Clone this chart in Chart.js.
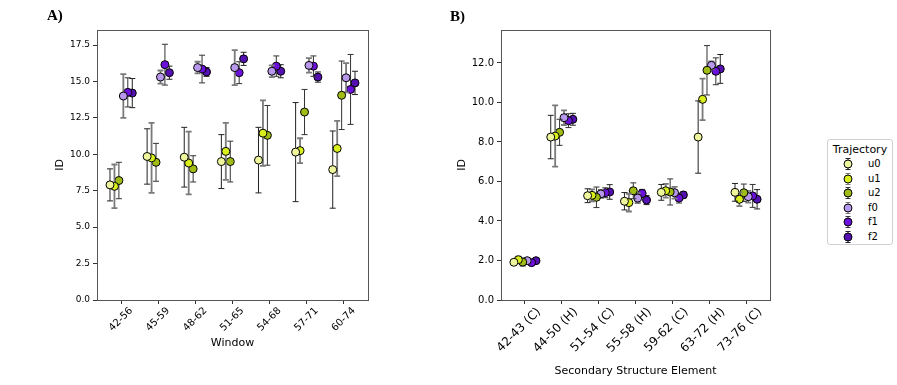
<!DOCTYPE html>
<html>
<head>
<meta charset="utf-8">
<script src="https://cdn.jsdelivr.net/npm/chart.js@4.4.1/dist/chart.umd.min.js"></script>
<style>
  body { margin: 0; background: #fff; }
  #wrap { position: relative; width: 897px; height: 385px; overflow: hidden; font-family: 'DejaVu Sans', sans-serif; }
  canvas { position: absolute; top: 0; }
  .panel-tag { position: absolute; font-family: 'Liberation Serif', serif; font-weight: bold; font-size: 15px; }
  #legend { position: absolute; left: 827px; top: 139px; width: 64px; height: 104px; border: 1px solid #d0d0d0; border-radius: 3px; background: #fff; }
  #legend .ttl { position: absolute; left: 0; width: 64px; top: 3px; text-align: center; font-size: 11px; }
  #legend .row { position: absolute; left: 14px; height: 14px; font-size: 10px; line-height: 14px; }
  #legend .row svg { position: absolute; left: 0; top: 0; }
  #legend .row span { position: absolute; left: 26px; top: 0; }
</style>
</head>
<body>
<div id="wrap">
  <canvas id="chartA" width="400" height="385" style="left:0"></canvas>
  <canvas id="chartB" width="380" height="385" style="left:430px"></canvas>
  <div class="panel-tag" style="left:47px; top:7px">A)</div>
  <div class="panel-tag" style="left:450px; top:8px">B)</div>
  <div id="legend"><div class="ttl">Trajectory</div></div>
</div>
<script>
Chart.defaults.font.family = "'DejaVu Sans', sans-serif";
Chart.defaults.color = '#000';

const seriesNames = ['u0', 'u1', 'u2', 'f0', 'f1', 'f2'];
const seriesColors = ['#eef59c', '#d9f01c', '#9fbd14', '#b898ec', '#6c10dc', '#5410b0'];
const errColors = ['#222', '#7a7a7a', '#333', '#7a7a7a', '#333', '#222'];
const errWidths = [1, 1.8, 1, 1.8, 1, 1];
const xShift = [-0.3, -0.18, -0.06, 0.06, 0.18, 0.3];

// panel A
const windows = ['42-56', '45-59', '48-62', '51-65', '54-68', '57-71', '60-74'];
const yTicksA = [0, 2.5, 5, 7.5, 10, 12.5, 15, 17.5];
const aU0 = [7.9, 9.85, 9.8, 9.5, 9.6, 10.15, 8.95];
const aU1 = [7.8, 9.75, 9.4, 10.2, 11.45, 10.25, 10.4];
const aU2 = [8.2, 9.45, 9.0, 9.5, 11.3, 12.9, 14.05];
const aF0 = [14.0, 15.3, 15.95, 15.95, 15.7, 16.1, 15.25];
const aF1 = [14.25, 16.15, 15.85, 15.6, 16.05, 16.05, 14.45];
const aF2 = [14.2, 15.6, 15.65, 16.55, 15.7, 15.3, 14.9];
const aU0Err = [1.1, 1.9, 2.05, 1.85, 2.25, 3.4, 2.65];
const aU1Err = [1.5, 2.4, 2.15, 1.95, 2.25, 0.85, 1.9];
const aU2Err = [1.25, 1.3, 0.9, 1.4, 2.05, 1.55, 2.35];
const aF0Err = [1.5, 0.45, 0.4, 1.2, 0.4, 0.5, 1.0];
const aF1Err = [1.0, 1.4, 0.95, 0.75, 0.7, 0.7, 2.4];
const aF2Err = [1.0, 0.45, 0.3, 0.45, 0.45, 0.35, 0.8];

// panel B
const elements = ['42-43 (C)', '44-50 (H)', '51-54 (C)', '55-58 (H)', '59-62 (C)', '63-72 (H)', '73-76 (C)'];
const yTicksB = [0, 2, 4, 6, 8, 10, 12];
const bU0 = [1.91, 8.25, 5.28, 5.0, 5.45, 8.25, 5.45];
const bU1 = [2.04, 8.3, 5.3, 4.93, 5.53, 10.16, 5.1];
const bU2 = [1.92, 8.49, 5.2, 5.53, 5.47, 11.63, 5.43];
const bF0 = [1.99, 9.23, 5.37, 5.16, 5.43, 11.88, 5.23];
const bF1 = [1.89, 9.08, 5.43, 5.4, 5.16, 11.58, 5.27];
const bF2 = [1.99, 9.15, 5.47, 5.06, 5.32, 11.7, 5.1];
const bU0Err = [0.1, 1.1, 0.35, 0.44, 0.4, 1.83, 0.45];
const bU1Err = [0.15, 1.55, 0.3, 0.45, 0.35, 1.05, 0.35];
const bU2Err = [0.2, 0.66, 0.52, 0.4, 0.66, 1.25, 0.44];
const bF0Err = [0.12, 0.37, 0.2, 0.25, 0.3, 0.2, 0.3];
const bF1Err = [0.1, 0.35, 0.25, 0.2, 0.25, 0.68, 0.58];
const bF2Err = [0.1, 0.3, 0.37, 0.23, 0.15, 0.73, 0.49];

// draw each series' error bars just before its markers
const errorBars = {
    id: 'errorBars',
    beforeDatasetDraw(chart, args) {
        const ds = chart.data.datasets[args.index];
        const y = chart.scales.y;
        const ctx = chart.ctx;
        ctx.save();
        ctx.strokeStyle = ds.errColor;
        ctx.lineWidth = ds.errWidth;
        args.meta.data.forEach((pt, i) => {
            const v = ds.data[i].y, e = ds.errors[i];
            const top = y.getPixelForValue(v + e), bot = y.getPixelForValue(v - e);
            ctx.beginPath();
            ctx.moveTo(pt.x, top); ctx.lineTo(pt.x, bot);
            ctx.moveTo(pt.x - 3, top); ctx.lineTo(pt.x + 3, top);
            ctx.moveTo(pt.x - 3, bot); ctx.lineTo(pt.x + 3, bot);
            ctx.stroke();
        });
        ctx.restore();
    }
};

const frame = {
    id: 'frame',
    afterDatasetsDraw(chart) {
        const a = chart.chartArea, ctx = chart.ctx;
        ctx.save();
        ctx.strokeStyle = '#555';
        ctx.lineWidth = 1;
        ctx.strokeRect(Math.round(a.left) + 0.5, Math.round(a.top) + 0.5, Math.round(a.right - a.left), Math.round(a.bottom - a.top));
        ctx.restore();
    }
};

function makeChart(id, cats, seriesValues, seriesErrs, o) {
    const datasets = seriesValues.map((vals, s) => ({
        label: seriesNames[s],
        data: vals.map((v, i) => ({ x: i + xShift[s], y: v })),
        errors: seriesErrs[s],
        errColor: errColors[s],
        errWidth: errWidths[s],
        backgroundColor: seriesColors[s],
        borderColor: '#000',
        pointRadius: 4,
        pointBorderWidth: 1,
        showLine: false
    }));
    return new Chart(document.getElementById(id), {
        type: 'scatter',
        data: { datasets },
        plugins: [errorBars, frame],
        options: {
            responsive: false,
            animation: false,
            layout: { padding: o.padding },
            plugins: { legend: { display: false }, tooltip: { enabled: false } },
            scales: {
                x: {
                    type: 'linear',
                    min: -0.65, max: 6.65,
                    afterBuildTicks: scale => { scale.ticks = cats.map((c, i) => ({ value: i })); },
                    afterFit: scale => { scale.height = o.xHeight; },
                    ticks: {
                        autoSkip: false,
                        minRotation: 45, maxRotation: 45,
                        labelOffset: o.labelOffset,
                        padding: 1,
                        font: { size: o.xFont },
                        callback: v => cats[v]
                    },
                    grid: { drawOnChartArea: false, drawTicks: true, tickLength: 4, color: '#333' },
                    border: { display: false },
                    title: { display: true, text: o.xTitle, font: { size: o.xTitleFont }, padding: { top: 4, bottom: 4 } }
                },
                y: {
                    min: 0, max: o.yMax,
                    afterBuildTicks: scale => { scale.ticks = o.yTicks.map(v => ({ value: v })); },
                    afterFit: scale => { scale.width = o.yWidth; },
                    ticks: { font: { size: o.yFont }, padding: 3, callback: v => v.toFixed(1) },
                    grid: { drawOnChartArea: false, drawTicks: true, tickLength: 4, color: '#333' },
                    border: { display: false },
                    title: { display: true, text: 'ID', font: { size: 11 }, padding: { top: 4, bottom: 4 } }
                }
            }
        }
    });
}

makeChart('chartA', windows,
    [aU0, aU1, aU2, aF0, aF1, aF2],
    [aU0Err, aU1Err, aU2Err, aF0Err, aF1Err, aF2Err],
    { padding: { left: 50, right: 32, top: 30, bottom: 31 }, yWidth: 47, xHeight: 54,
      yMax: 18.53, yTicks: yTicksA, xFont: 10, yFont: 9, labelOffset: 10,
      xTitle: 'Window', xTitleFont: 11 });

makeChart('chartB', elements,
    [bU0, bU1, bU2, bF0, bF1, bF2],
    [bU0Err, bU1Err, bU2Err, bF0Err, bF1Err, bF2Err],
    { padding: { left: 22, right: 40, top: 30, bottom: 3 }, yWidth: 49, xHeight: 82,
      yMax: 13.67, yTicks: yTicksB, xFont: 12, yFont: 10, labelOffset: 14,
      xTitle: 'Secondary Structure Element', xTitleFont: 11 });

// legend
const legend = document.getElementById('legend');
seriesNames.forEach((name, s) => {
    const row = document.createElement('div');
    row.className = 'row';
    row.style.top = (17 + s * 14.6) + 'px';
    row.innerHTML =
        '<svg width="12" height="14" viewBox="0 0 12 14">' +
        '<path d="M6 1 V13 M3.5 1.5 H8.5 M3.5 12.5 H8.5" stroke="' + errColors[s] + '" stroke-width="1" fill="none"/>' +
        '<circle cx="6" cy="7" r="4" fill="' + seriesColors[s] + '" stroke="#000" stroke-width="1"/></svg>' +
        '<span>' + name + '</span>';
    legend.appendChild(row);
});
</script>
</body>
</html>
